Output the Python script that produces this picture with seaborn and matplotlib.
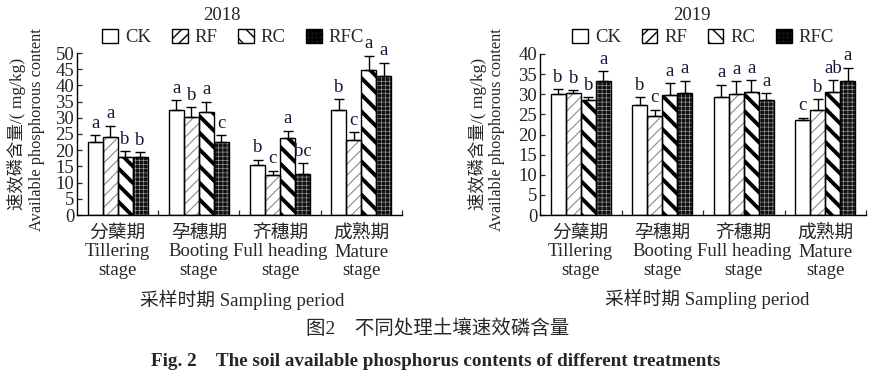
import matplotlib
matplotlib.use('Agg')
import matplotlib.pyplot as plt
import seaborn as sns
import pandas as pd
import numpy as np
from matplotlib.patches import Patch, Rectangle

# ---------------- data ----------------
stages_cn = ['分蘖期', '孕穗期', '齐穗期', '成熟期']
stages_en = ['Tillering\nstage', 'Booting\nstage', 'Full heading\nstage', 'Mature\nstage']
treatments = ['CK', 'RF', 'RC', 'RFC']

y2018_ck = [22.4, 32.3, 15.5, 32.5]
y2018_rf = [24.2, 30.2, 12.2, 23.3]
y2018_rc = [18.0, 31.7, 23.7, 44.8]
y2018_rfc = [17.8, 22.5, 12.8, 42.9]
e2018_ck = [2.2, 3.2, 1.5, 3.2]
e2018_rf = [3.3, 3.1, 1.5, 2.2]
e2018_rc = [1.7, 3.2, 2.3, 4.3]
e2018_rfc = [1.6, 2.1, 3.1, 4.1]
l2018_ck = ['a', 'a', 'b', 'b']
l2018_rf = ['a', 'b', 'c', 'c']
l2018_rc = ['b', 'a', 'a', 'a']
l2018_rfc = ['b', 'c', 'bc', 'a']

y2019_ck = [30.1, 27.4, 29.4, 23.5]
y2019_rf = [30.3, 24.6, 30.0, 26.1]
y2019_rc = [28.6, 29.8, 30.5, 30.5]
y2019_rfc = [33.4, 30.3, 28.5, 33.4]
e2019_ck = [1.2, 1.8, 3.0, 0.7]
e2019_rf = [0.7, 1.6, 3.2, 2.6]
e2019_rc = [0.6, 3.0, 3.0, 3.0]
e2019_rfc = [2.3, 3.1, 1.8, 3.2]
l2019_ck = ['b', 'b', 'a', 'c']
l2019_rf = ['b', 'c', 'a', 'b']
l2019_rc = ['b', 'a', 'a', 'ab']
l2019_rfc = ['a', 'a', 'a', 'a']

ylim_2018 = 50
ylim_2019 = 40

# ---------------- style ----------------
sns.set_style('ticks')
FAM = ['Liberation Serif', 'Noto Sans CJK SC']
plt.rcParams['font.family'] = FAM
plt.rcParams['axes.unicode_minus'] = False

FS = 13.5

styles = {
    'CK':  dict(face='white', hatch=None, hcolor='black', hlw=1.0),
    'RF':  dict(face='white', hatch='///', hcolor='#8a8a8a', hlw=0.8),
    'RC':  dict(face='white', hatch='\\\\', hcolor='black', hlw=2.8),
    'RFC': dict(face='#111111', hatch='++++', hcolor='#aaaaaa', hlw=0.4),
}


def build_df(ck, rf, rc, rfc, eck, erf, erc, erfc, lck, lrf, lrc, lrfc):
    rows = []
    for t, vals, errs, lets in zip(treatments, [ck, rf, rc, rfc], [eck, erf, erc, erfc],
                                   [lck, lrf, lrc, lrfc]):
        for s, v, e, l in zip(stages_cn, vals, errs, lets):
            rows.append(dict(stage=s, treatment=t, value=v, err=e, letter=l))
    return pd.DataFrame(rows)


df2018 = build_df(y2018_ck, y2018_rf, y2018_rc, y2018_rfc,
                  e2018_ck, e2018_rf, e2018_rc, e2018_rfc,
                  l2018_ck, l2018_rf, l2018_rc, l2018_rfc)
df2019 = build_df(y2019_ck, y2019_rf, y2019_rc, y2019_rfc,
                  e2019_ck, e2019_rf, e2019_rc, e2019_rfc,
                  l2019_ck, l2019_rf, l2019_rc, l2019_rfc)

W, H = 879, 376
fig = plt.figure(figsize=(W / 100, H / 100), dpi=100)


def px_axes(x0, x1, ytop, ybot):
    return fig.add_axes([x0 / W, 1 - ybot / H, (x1 - x0) / W, (ybot - ytop) / H])


def draw_panel(ax, df, ymax, year):
    sns.barplot(data=df, x='stage', y='value', hue='treatment', hue_order=treatments,
                order=stages_cn, ax=ax, width=0.74, errorbar=None, legend=False,
                saturation=1)
    for t, cont in zip(treatments, ax.containers):
        st = styles[t]
        sub = df[df.treatment == t].set_index('stage').loc[stages_cn]
        for p, (_, r) in zip(cont.patches, sub.iterrows()):
            p.set_facecolor(st['face'])
            p.set_edgecolor(st['hcolor'])
            p.set_linewidth(0)
            if st['hatch']:
                p.set_hatch(st['hatch'])
                if hasattr(p, 'set_hatch_linewidth'):
                    p.set_hatch_linewidth(st['hlw'])
            x, y = p.get_xy()
            ax.add_patch(Rectangle((x, y), p.get_width(), p.get_height(), fill=False,
                                   edgecolor='black', linewidth=1.0, zorder=3))
            xc = x + p.get_width() / 2
            ax.errorbar([xc], [r.value], yerr=[[0], [r.err]], fmt='none', ecolor='black',
                        elinewidth=1.0, capsize=3.5, capthick=1.0, zorder=2)
            ax.annotate(r.letter, (xc, r.value + r.err), xytext=(0, 2.5),
                        textcoords='offset points', ha='center', va='bottom',
                        fontsize=FS, color='#15153a')
    ax.set_xlim(-0.5, 3.5)
    ax.set_ylim(0, ymax)
    ax.set_yticks(np.arange(0, ymax + 1, 5))
    ax.tick_params(axis='y', direction='in', length=3.5, width=0.9, labelsize=FS, pad=2)
    ax.set_xticks(range(4))
    ax.set_xticklabels([c + '\n' + e for c, e in zip(stages_cn, stages_en)],
                       fontsize=FS, linespacing=1.12)
    ax.tick_params(axis='x', length=0, pad=7)
    ax.set_xticks([0.5, 1.5, 2.5, 3.5], minor=True)
    ax.tick_params(axis='x', which='minor', direction='in', length=3.5, width=0.9)
    for lab in ax.get_yticklabels():
        lab.set_family(FAM)
    ax.set_xlabel('')
    ax.set_ylabel('')
    sns.despine(ax=ax)
    for s in ['left', 'bottom']:
        ax.spines[s].set_linewidth(1.0)
        ax.spines[s].set_color('black')


ax1 = px_axes(77, 402, 53, 215)
draw_panel(ax1, df2018, ylim_2018, 2018)
ax2 = px_axes(540, 866, 54, 215)
draw_panel(ax2, df2019, ylim_2019, 2019)


def legend_handles():
    hs = []
    for t in treatments:
        st = styles[t]
        h = Patch(facecolor=st['face'], edgecolor='black', hatch=st['hatch'], linewidth=1.0,
                  label=t)
        hs.append(h)
    return hs


for ax, cx, title, tx in [(ax1, 233, '2018', 222), (ax2, 703, '2019', 692)]:
    leg = fig.legend(handles=legend_handles(), loc='center', bbox_to_anchor=(cx / W, 1 - 37.5 / H),
                     ncol=4, frameon=False, fontsize=FS, handlelength=0.85, handleheight=0.85,
                     handletextpad=0.35, columnspacing=1.1, borderpad=0)
    fig.text(tx / W, 1 - 15 / H, title, ha='center', va='center', fontsize=FS)

# y labels
for xc, xe in [(17, 37), (478, 497)]:
    fig.text(xc / W, 1 - 134 / H, '速效磷含量/( mg/kg)', rotation=90, ha='center', va='center',
             fontsize=12.5)
    fig.text(xe / W, 1 - 130 / H, 'Available phosphorous content', rotation=90, ha='center',
             va='center', fontsize=11.8)

# x labels
fig.text(242 / W, 1 - 300 / H, '采样时期 Sampling period', ha='center', va='center', fontsize=FS)
fig.text(707 / W, 1 - 299 / H, '采样时期 Sampling period', ha='center', va='center', fontsize=FS)

# captions
fig.text(438 / W, 1 - 328 / H, '图2　不同处理土壤速效磷含量', ha='center', va='center',
         fontsize=14)
fig.text(436 / W, 1 - 362 / H,
         'Fig. 2　The soil available phosphorus contents of different treatments',
         ha='center', va='center', fontsize=13.8, fontweight='bold')

fig.savefig('out.png', dpi=100)
